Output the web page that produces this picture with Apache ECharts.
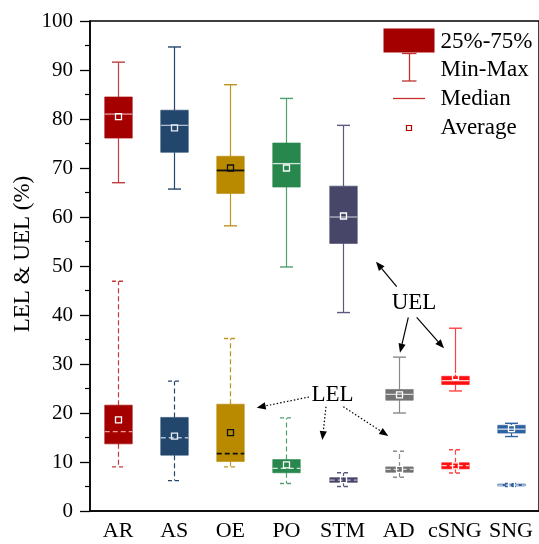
<!DOCTYPE html>
<html>
<head>
<meta charset="utf-8">
<script src="https://cdn.jsdelivr.net/npm/echarts@6/dist/echarts.min.js"></script>
<style>html,body{margin:0;padding:0;background:#fff;}#c{width:539px;height:544px;}</style>
</head>
<body>
<div id="c"></div>
<script>
// ---- data ----
var categories = ['AR', 'AS', 'OE', 'PO', 'STM', 'AD', 'cSNG', 'SNG'];
var yTicks = [0, 10, 20, 30, 40, 50, 60, 70, 80, 90, 100];

var uelMin    = [67.0, 65.7, 58.2, 49.8, 40.5, 20.0, 24.5, 15.2];
var uelQ1     = [76.1, 73.2, 64.8, 66.1, 54.6, 22.6, 25.8, 15.9];
var uelMedian = [81.0, 78.7, 69.5, 70.9, 60.0, 23.8, 26.6, 16.7];
var uelQ3     = [84.5, 81.8, 72.4, 75.1, 66.3, 24.8, 27.5, 17.5];
var uelMax    = [91.6, 94.7, 87.0, 84.2, 78.7, 31.4, 37.3, 17.9];
var uelMean   = [80.5, 78.2, 70.0, 70.0, 60.2, 23.7, 27.4, 16.8];

var lelMin    = [9.0, 6.2, 9.0, 5.6, 5.0, 6.9, 7.75, 5.0];
var lelQ1     = [13.7, 11.4, 10.1, 7.8, 5.85, 7.9, 8.6, 5.1];
var lelMedian = [16.2, 14.95, 11.7, 8.7, 6.3, 8.5, 9.25, 5.3];
var lelQ3     = [21.6, 19.1, 21.8, 10.5, 6.8, 9.0, 9.85, 5.5];
var lelMax    = [46.9, 26.5, 35.2, 19.0, 7.8, 12.2, 12.5, 5.6];
var lelMean   = [18.6, 15.3, 16.0, 9.4, 6.4, 8.5, 9.2, 5.3];

// ---- styles ----
var boxColors     = ['#a50000', '#23466d', '#b98900', '#27874d', '#474669', '#727272', '#ff1010', '#2f62a0'];
var whiskerColors = ['#c23c3c', '#23466d', '#bf9420', '#4fa06e', '#5b5a7c', '#8a8a8a', '#ff4040', '#2f62a0'];
var medianColors  = ['rgba(255,210,210,0.75)', 'rgba(220,230,245,0.75)', '#111', 'rgba(255,255,255,0.8)', 'rgba(230,230,240,0.7)', 'rgba(255,255,255,0.7)', 'rgba(255,255,255,0.8)', 'rgba(255,255,255,0.8)'];
var meanColors    = ['#fff', '#e8edf5', '#111', '#fff', '#fff', '#fff', '#fff', '#fff'];
var FONT = '"Liberation Serif", "Times New Roman", serif';

function buildData(mn, q1, md, q3, mx, mean) {
  return categories.map(function (c, i) { return [i, mn[i], q1[i], md[i], q3[i], mx[i], mean[i]]; });
}

function makeRender(dashed) {
  return function (params, api) {
    var i = api.value(0);
    var idx = params.dataIndex;
    var pMin = api.coord([i, api.value(1)]);
    var pQ1 = api.coord([i, api.value(2)]);
    var pMd = api.coord([i, api.value(3)]);
    var pQ3 = api.coord([i, api.value(4)]);
    var pMx = api.coord([i, api.value(5)]);
    var pMean = api.coord([i, api.value(6)]);
    var band = api.size([1, 0])[0];
    var bw = band * 0.49;
    var cx = Math.round(pMin[0]) + 0.5;
    var capHalf = 6.5;
    var wc = whiskerColors[idx];
    var dash = dashed ? [5, 3] : null;
    var lw = { stroke: wc, lineWidth: 1.2, lineDash: dash };
    var children = [
      { type: 'line', shape: { x1: cx, y1: pQ3[1], x2: cx, y2: pMx[1] }, style: lw },
      { type: 'line', shape: { x1: cx, y1: pQ1[1], x2: cx, y2: pMin[1] }, style: lw },
      { type: 'line', shape: { x1: cx - capHalf, y1: pMx[1], x2: cx + capHalf, y2: pMx[1] }, style: { stroke: wc, lineWidth: 1.4, lineDash: dashed ? [4, 3] : null } },
      { type: 'line', shape: { x1: cx - capHalf, y1: pMin[1], x2: cx + capHalf, y2: pMin[1] }, style: { stroke: wc, lineWidth: 1.4, lineDash: dashed ? [4, 3] : null } },
      { type: 'rect', shape: { x: cx - bw / 2, y: pQ3[1], width: bw, height: Math.max(pQ1[1] - pQ3[1], 1.5) },
        style: { fill: boxColors[idx], stroke: boxColors[idx], lineWidth: 0.6, opacity: 1 } },
      { type: 'line', shape: { x1: cx - bw / 2, y1: pMd[1], x2: cx + bw / 2, y2: pMd[1] },
        style: { stroke: medianColors[idx], lineWidth: idx === 2 ? 1.8 : 1.3, lineDash: dash } },
      { type: 'rect', shape: { x: cx - 3, y: pMean[1] - 3, width: 6, height: 6 },
        style: { fill: 'none', stroke: meanColors[idx], lineWidth: 1.3 } }
    ];
    return { type: 'group', children: children };
  };
}

function arrow(x1, y1, x2, y2, dotted) {
  var ang = Math.atan2(y2 - y1, x2 - x1);
  var L = 9, W = 3.6;
  var bx = x2 - L * Math.cos(ang), by = y2 - L * Math.sin(ang);
  var nx = -Math.sin(ang), ny = Math.cos(ang);
  return [
    { type: 'line', silent: true, shape: { x1: x1, y1: y1, x2: bx, y2: by },
      style: { stroke: '#000', lineWidth: 1.2, lineDash: dotted ? [1.5, 2] : null } },
    { type: 'polygon', silent: true, shape: { points: [[x2, y2], [bx + W * nx, by + W * ny], [bx - W * nx, by - W * ny]] },
      style: { fill: '#000' } }
  ];
}

var graphics = [];
// y-axis title
graphics.push({ type: 'text', x: 23, y: 254, rotation: Math.PI / 2, silent: true,
  style: { text: 'LEL & UEL (%)', fontSize: 23, fontFamily: FONT, fill: '#000', align: 'center', verticalAlign: 'middle' } });
// legend
var legendFont = { fontSize: 23, fontFamily: FONT, fill: '#000', align: 'left', verticalAlign: 'middle' };
graphics.push({ type: 'rect', silent: true, shape: { x: 383.5, y: 28.5, width: 51, height: 24 }, style: { fill: '#a50000' } });
graphics.push({ type: 'text', silent: true, x: 440.5, y: 41.5, style: Object.assign({ text: '25%-75%' }, legendFont) });
graphics.push({ type: 'line', silent: true, shape: { x1: 402, y1: 53.5, x2: 416.5, y2: 53.5 }, style: { stroke: '#c03030', lineWidth: 1.3 } });
graphics.push({ type: 'line', silent: true, shape: { x1: 409.5, y1: 53.5, x2: 409.5, y2: 81 }, style: { stroke: '#c03030', lineWidth: 1.3 } });
graphics.push({ type: 'line', silent: true, shape: { x1: 402, y1: 81, x2: 416.5, y2: 81 }, style: { stroke: '#c03030', lineWidth: 1.3 } });
graphics.push({ type: 'text', silent: true, x: 440.5, y: 70, style: Object.assign({ text: 'Min-Max' }, legendFont) });
graphics.push({ type: 'line', silent: true, shape: { x1: 393, y1: 98.5, x2: 425, y2: 98.5 }, style: { stroke: '#c03030', lineWidth: 1.3 } });
graphics.push({ type: 'text', silent: true, x: 440.5, y: 98.5, style: Object.assign({ text: 'Median' }, legendFont) });
graphics.push({ type: 'rect', silent: true, shape: { x: 406.5, y: 125.5, width: 5, height: 5 }, style: { fill: 'none', stroke: '#b00000', lineWidth: 1.2 } });
graphics.push({ type: 'text', silent: true, x: 440.5, y: 127.5, style: Object.assign({ text: 'Average' }, legendFont) });
// annotations
graphics.push({ type: 'text', silent: true, x: 414, y: 302.5, style: { text: 'UEL', fontSize: 23, fontFamily: FONT, fill: '#000', align: 'center', verticalAlign: 'middle' } });
graphics.push({ type: 'text', silent: true, x: 332.5, y: 395, style: { text: 'LEL', fontSize: 23, fontFamily: FONT, fill: '#000', align: 'center', verticalAlign: 'middle' } });
graphics = graphics
  .concat(arrow(396.7, 286.7, 376, 261.7, false))
  .concat(arrow(408.3, 317.3, 400, 352.7, false))
  .concat(arrow(416.7, 317.3, 444, 348.3, false))
  .concat(arrow(309, 397, 256.7, 407.7, true))
  .concat(arrow(326, 406.7, 322.3, 440, true))
  .concat(arrow(343.3, 406.7, 388.3, 436, true));

var chart = echarts.init(document.getElementById('c'), null, { renderer: 'canvas' });
chart.setOption({
  animation: false,
  backgroundColor: '#fff',
  grid: { left: 90, right: -3.6, top: 21, bottom: 33, show: true, borderColor: '#000', borderWidth: 1.5, backgroundColor: 'transparent' },
  xAxis: {
    type: 'category', data: categories,
    axisLine: { lineStyle: { color: '#000', width: 1.5 } },
    axisTick: { alignWithLabel: true, length: 7, lineStyle: { color: '#000', width: 1.3 } },
    axisLabel: { color: '#000', fontSize: 22, fontFamily: FONT, margin: 9, interval: 0 },
    splitLine: { show: false }
  },
  yAxis: {
    type: 'value', min: yTicks[0], max: yTicks[yTicks.length - 1], interval: yTicks[1] - yTicks[0],
    axisLine: { show: true, lineStyle: { color: '#000', width: 1.5 } },
    axisTick: { show: true, length: 10, lineStyle: { color: '#000', width: 1.3 } },
    minorTick: { show: true, splitNumber: 2, length: 5, lineStyle: { color: '#000', width: 1.2 } },
    axisLabel: { color: '#000', fontSize: 21, fontFamily: FONT, margin: 17 },
    splitLine: { show: false }
  },
  series: [
    { type: 'custom', name: 'UEL', renderItem: makeRender(false), data: buildData(uelMin, uelQ1, uelMedian, uelQ3, uelMax, uelMean), encode: { x: 0, y: [1, 2, 3, 4, 5, 6] }, z: 3 },
    { type: 'custom', name: 'LEL', renderItem: makeRender(true), data: buildData(lelMin, lelQ1, lelMedian, lelQ3, lelMax, lelMean), encode: { x: 0, y: [1, 2, 3, 4, 5, 6] }, z: 3 }
  ],
  graphic: graphics
});
</script>
</body>
</html>
